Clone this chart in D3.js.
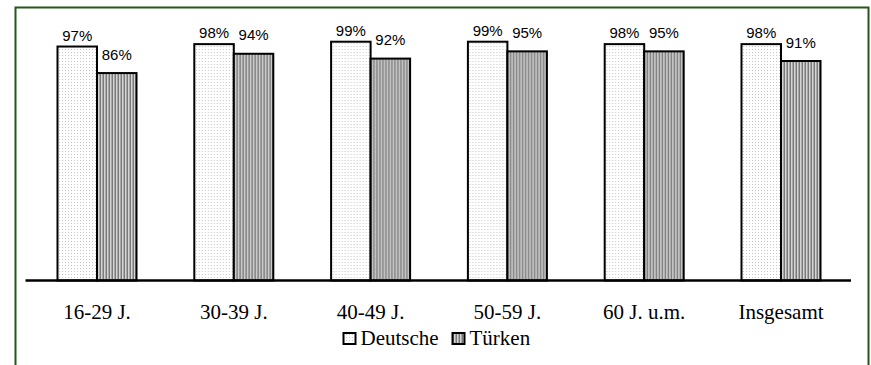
<!DOCTYPE html>
<html>
<head>
<meta charset="utf-8">
<script src="https://cdn.jsdelivr.net/npm/d3@7"></script>
<style>
  html, body { margin: 0; padding: 0; background: #fff; }
  svg { display: block; }
</style>
</head>
<body>
<svg id="chart" width="871" height="365"></svg>
<script>
// Age groups and share per group (percent)
const categories = ["16-29 J.", "30-39 J.", "40-49 J.", "50-59 J.", "60 J. u.m.", "Insgesamt"];
const seriesNames = ["Deutsche", "Türken"];
const deutsche = [97, 98, 99, 99, 98, 98];
const tuerken = [86, 94, 92, 95, 95, 91];

const svg = d3.select("#chart");

// patterns: fine dots for Deutsche, vertical stripes for Türken
const defs = svg.append("defs");
const dots = defs.append("pattern")
  .attr("id", "dots").attr("patternUnits", "userSpaceOnUse")
  .attr("width", 3).attr("height", 3);
dots.append("rect").attr("width", 3).attr("height", 3).attr("fill", "#ffffff");
dots.append("rect").attr("x", 1).attr("y", 1).attr("width", 1).attr("height", 1).attr("fill", "#c8c8c8");

const stripes = defs.append("pattern")
  .attr("id", "stripes").attr("patternUnits", "userSpaceOnUse")
  .attr("width", 3).attr("height", 3);
stripes.append("rect").attr("width", 3).attr("height", 3).attr("fill", "#d4d4d4");
stripes.append("rect").attr("x", 0).attr("width", 1).attr("height", 3).attr("fill", "#7a7a7a");
stripes.append("rect").attr("x", 2).attr("width", 1).attr("height", 3).attr("fill", "#a8a8a8");

const fills = ["url(#dots)", "url(#stripes)"];
const labelGap = [6, 13.5];

// outer frame
svg.append("rect")
  .attr("x", 15.5).attr("y", 7.5)
  .attr("width", 853).attr("height", 370)
  .attr("fill", "none").attr("stroke", "#25571a").attr("stroke-width", 2);

const baseY = 280.5;
const x = d3.scaleBand().domain(categories).range([28.6, 849.4]).paddingInner(0).paddingOuter(0);
const y = d3.scaleLinear().domain([0, 100]).range([baseY, baseY - 241.2]);
const barW = 39.5;

const data = categories.map((c, i) => ({ cat: c, vals: [deutsche[i], tuerken[i]] }));

const groups = svg.append("g").selectAll("g")
  .data(data).join("g")
  .attr("transform", d => `translate(${x(d.cat) + x.bandwidth() / 2},0)`);

groups.each(function (d) {
  const g = d3.select(this);
  d.vals.forEach((v, s) => {
    const x0 = s === 0 ? -barW : 0;
    g.append("rect")
      .attr("x", x0).attr("y", y(v))
      .attr("width", barW).attr("height", y(0) - y(v))
      .attr("fill", fills[s])
      .attr("stroke", "#000").attr("stroke-width", 2);
    g.append("text")
      .attr("x", x0 + barW / 2).attr("y", y(v) - labelGap[s])
      .attr("text-anchor", "middle")
      .attr("font-family", "Arial, 'Liberation Sans', sans-serif")
      .attr("font-size", 15)
      .attr("fill", "#000")
      .text(v + "%");
  });
});

// baseline axis with category labels
const axis = svg.append("g").attr("transform", `translate(0,${baseY})`)
  .call(d3.axisBottom(x).tickSize(0).tickPadding(0));
axis.select(".domain").attr("d", "M25.5,0H851").attr("stroke", "#000").attr("stroke-width", 2.5);
axis.selectAll(".tick text")
  .attr("y", 38)
  .attr("dy", 0)
  .attr("font-family", "'Times New Roman', 'Liberation Serif', serif")
  .attr("font-size", 21)
  .attr("fill", "#000");

// legend
const legend = svg.append("g");
const legendItems = [{ x: 343.5, name: seriesNames[0], fill: fills[0] }, { x: 452.5, name: seriesNames[1], fill: fills[1] }];
legendItems.forEach(it => {
  legend.append("rect")
    .attr("x", it.x).attr("y", 333).attr("width", 12).attr("height", 11)
    .attr("fill", it.fill).attr("stroke", "#000").attr("stroke-width", 2);
  legend.append("text")
    .attr("x", it.x + 17).attr("y", 345)
    .attr("font-family", "'Times New Roman', 'Liberation Serif', serif")
    .attr("font-size", 21)
    .attr("fill", "#000")
    .text(it.name);
});
</script>
</body>
</html>
